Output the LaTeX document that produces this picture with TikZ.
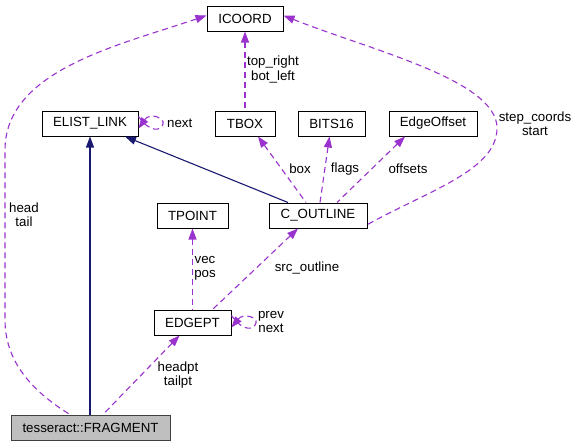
\documentclass[tikz,border=0pt]{standalone}
\usepackage{fontspec}
\setmainfont{Liberation Sans}
\usetikzlibrary{arrows.meta}
\definecolor{dep}{HTML}{9A32CD}
\definecolor{inh}{HTML}{191970}
\begin{document}
\begin{tikzpicture}[x=1pt,y=-1pt,
  every node/.style={font=\fontsize{13.3}{14.5}\selectfont},
  cls/.style={draw=black,line width=1pt,fill=white,inner sep=0pt,minimum height=25pt},
  lbl/.style={inner sep=0pt,align=center},
  usage/.style={draw=dep,line width=1.1pt,dash pattern=on 6pt off 4pt,{Triangle[length=11pt,width=8pt]}-},
  isa/.style={draw=inh,line width=1.1pt,{Triangle[length=11pt,width=8pt]}-}]
\useasboundingbox (0,0) rectangle (577,447);
% nodes
\node[cls,minimum width=76pt] (icoord) at (245,18.5) {ICOORD};
\node[cls,minimum width=96pt] (elist) at (90,123.5) {ELIST\_LINK};
\node[cls,minimum width=60pt] (tbox) at (245,123.5) {TBOX};
\node[cls,minimum width=67pt] (bits) at (331.5,123.5) {BITS16};
\node[cls,minimum width=88pt] (eoff) at (433,123.5) {EdgeOffset};
\node[cls,minimum width=71pt] (tpoint) at (192.5,215.5) {TPOINT};
\node[cls,minimum width=98pt] (cout) at (318,215.5) {C\_OUTLINE};
\node[cls,minimum width=77pt] (edgept) at (192.5,322.5) {EDGEPT};
\node[cls,minimum width=159pt,fill={rgb,255:red,191;green,191;blue,191},draw={rgb,255:red,64;green,64;blue,64}] (frag) at (90.5,427.5) {tesseract::FRAGMENT};
% inheritance
\draw[isa] (elist.south) -- (frag.north -| elist.south);
\draw[isa] ([xshift=35pt]elist.south) -- ([xshift=-30pt]cout.north);
% usage
\draw[usage] ([yshift=3pt]icoord.west) .. controls (120,45) and (5,70) .. (5,150) -- (5,320) .. controls (5,360) and (30,390) .. ([xshift=-20.5pt]frag.north);
\node[lbl] (l1) at (24,214.5) {head\\tail};
\draw[usage] (icoord.south) -- (tbox.north);
\node[lbl] (l2) at (273,69.5) {top\_right\\bot\_left};
\draw[usage] ([yshift=3pt]icoord.east) .. controls (370,50) and (497,80) .. (497,128) .. controls (497,170) and (430,190) .. ([yshift=-9pt]cout.east);
\node[lbl] (l3) at (535,123.5) {step\_coords\\start};
\draw[usage] ([yshift=-5pt]elist.east) .. controls (150,112) and (165,118) .. (163,124) .. controls (161,131) and (150,133) .. ([yshift=7pt]elist.east);
\node[lbl,anchor=west] (l4) at (167,123.5) {next};
\draw[usage] ([xshift=13pt]tbox.south) -- ([xshift=-12pt]cout.north);
\node[lbl] (l5) at (300,169) {box};
\draw[usage] ([xshift=-2pt]bits.south) -- ([xshift=2pt]cout.north);
\node[lbl] (l6) at (345,169) {flags};
\draw[usage] ([xshift=-28pt]eoff.south) -- ([xshift=19pt]cout.north);
\node[lbl] (l7) at (408,169) {offsets};
\draw[usage] (tpoint.south) -- (edgept.north);
\node[lbl] (l8) at (205,268.5) {vec\\pos};
\draw[usage] ([xshift=-20pt]cout.south) -- ([xshift=20pt]edgept.north);
\node[lbl] (l9) at (307,268) {src\_outline};
\draw[usage] ([yshift=-5pt]edgept.east) .. controls (243,313) and (258,317) .. (256,323) .. controls (254,330) and (243,332) .. ([yshift=7pt]edgept.east);
\node[lbl] (l10) at (271,322) {prev\\next};
\draw[usage] ([xshift=-13pt]edgept.south) -- ([xshift=12.5pt]frag.north);
\node[lbl] (l11) at (178,375) {headpt\\tailpt};
\end{tikzpicture}
\end{document}
